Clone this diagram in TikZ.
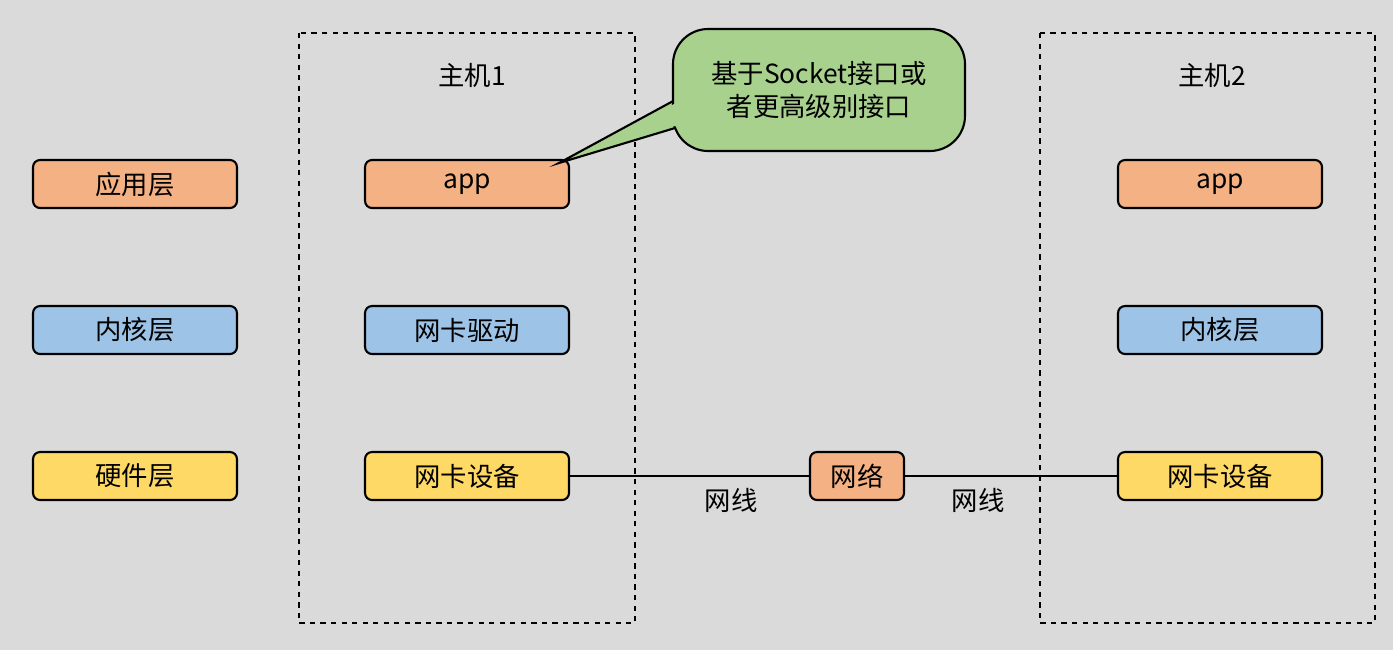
\documentclass[tikz,border=0pt]{standalone}
\usepackage{fontspec}
\setmainfont{Noto Sans CJK SC}
\usepackage{tikz}
\definecolor{bggray}{HTML}{DADADA}
\definecolor{appc}{HTML}{F4B183}
\definecolor{kernc}{HTML}{9DC3E6}
\definecolor{hwc}{HTML}{FFD966}
\definecolor{notec}{HTML}{A9D18E}

\begin{document}
\begin{tikzpicture}[x=0.02cm,y=-0.02cm,font=\fontsize{15}{19}\selectfont]
	\tikzstyle{layer}=[draw=black,line width=1.2pt,rounded corners=4pt,minimum width=4.08cm,minimum height=0.96cm,inner sep=0pt]
	\tikzstyle{app layer}=[layer,fill=appc]
	\tikzstyle{kernel layer}=[layer,fill=kernc]
	\tikzstyle{hw layer}=[layer,fill=hwc]
	\tikzstyle{host}=[draw=black,dashed,line width=1.2pt]
	\tikzstyle{wire}=[draw=black,line width=1.2pt]
	
	% Background
	\fill[bggray] (0,0) rectangle (1393,650);
	\useasboundingbox (0,0) rectangle (1393,650);
	
	% Host frames
	\draw[host] (299,33) rectangle (635,623);
	\draw[host] (1040,33) rectangle (1375,623);
	\node (t1) at (472,75) {主机1};
	\node (t2) at (1212,75) {主机2};
	
	% Left legend
	\node[app layer] (L-1) at (135,184) {应用层};
	\node[kernel layer] (L-2) at (135,330) {内核层};
	\node[hw layer] (L-3) at (135,476) {硬件层};
	
	% Host 1
	\node[app layer] (A-1) at (467,184) {app};
	\node[kernel layer] (A-2) at (467,330) {网卡驱动};
	\node[hw layer] (A-3) at (467,476) {网卡设备};
	
	% Host 2
	\node[app layer] (B-1) at (1220,184) {app};
	\node[kernel layer] (B-2) at (1220,330) {内核层};
	\node[hw layer] (B-3) at (1220,476) {网卡设备};
	
	% Network
	\node[app layer,minimum width=1.88cm] (net) at (857,476) {网络};
	\path[wire] (A-3) -- (net) (net) -- (B-3);
	\node (w1) at (731,500) {网线};
	\node (w2) at (978,500) {网线};
	
	% Callout
	\coordinate (tip) at (559,163);
	\filldraw[fill=notec,draw=black,line width=1.2pt] (675,100) -- (tip) -- (675,128);
	\filldraw[fill=notec,draw=black,line width=1.2pt,rounded corners=20pt] (673,29) rectangle (965,151);
	\fill[notec] (680,101) -- (640,121) -- (680,127) -- cycle;
	\node[align=center] (note) at (819,90) {基于Socket接口或\\者更高级别接口};
\end{tikzpicture}
\end{document}
